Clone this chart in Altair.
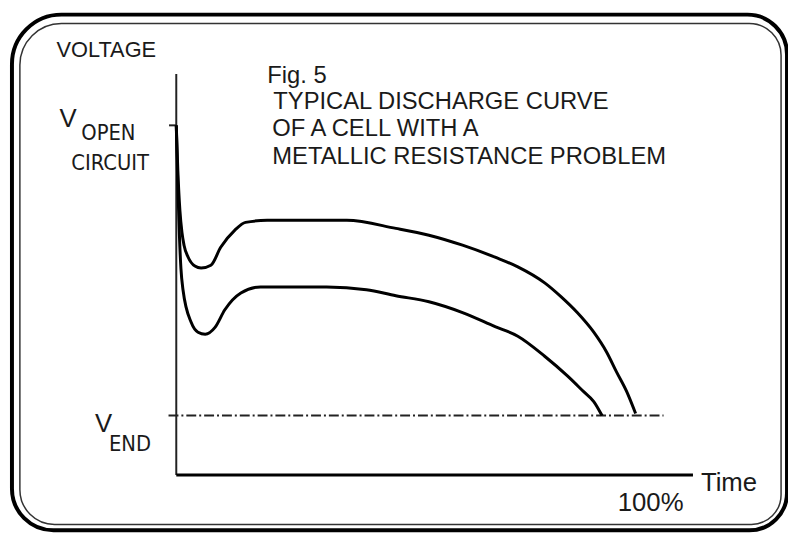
import altair as alt
import pandas as pd

# ---- data (time in % of discharge, voltage in arbitrary units 0..100) ----
time_upper = [0, 0.3, 0.7, 1.1, 1.5, 2.3, 3.6, 4.8, 6.7, 8.6, 11.3, 13.4, 17.6, 33.0, 42.5, 48.9, 55.4, 61.7, 66.1,
              71.3, 74.5, 77.6, 80.8, 83.3, 85.2, 87.2, 88.9]
volt_upper = [87.2, 76.0, 66.0, 60.5, 57.3, 54.3, 52.1, 51.6, 52.3, 56.8, 61.0, 63.0, 63.5, 63.5, 61.5, 59.8, 57.3, 54.3, 51.9,
              47.9, 44.4, 40.5, 35.6, 30.6, 25.7, 20.7, 15.3]

time_lower = [0, 0.3, 0.6, 0.9, 1.3, 2.9, 4.2, 5.6, 7.5, 9.4, 12.5, 16.3, 29.1, 36.8, 42.5, 48.9, 55.4, 61.7, 66.1,
              71.3, 75.7, 78.9, 80.8, 82.4]
volt_lower = [87.2, 72.0, 60.0, 51.5, 46.2, 38.0, 35.6, 35.1, 36.8, 41.2, 45.4, 46.9, 46.9, 46.2, 44.7, 43.2, 40.5, 37.0, 34.6,
              29.6, 24.7, 20.7, 18.3, 14.8]

V_OPEN = 87.2
V_END = 14.8
T_FULL = 100
V_TOP = 100
END_LINE = [-1.5, 94.3]
TICK = [-1.4, 0]

labels = ["VOLTAGE", "Fig. 5", "TYPICAL DISCHARGE CURVE", "OF A CELL WITH A",
          "METALLIC RESISTANCE PROBLEM", "V", "OPEN", "CIRCUIT", "V", "END", "Time", "100%"]

curves = pd.concat([
    pd.DataFrame({"t": time_upper, "v": volt_upper, "s": "upper"}),
    pd.DataFrame({"t": time_lower, "v": volt_lower, "s": "lower"}),
], ignore_index=True)

xs = alt.Scale(domain=[0, 100], range=[170, 692], nice=False, zero=False)
ys = alt.Scale(domain=[0, 100], range=[469, 64], nice=False, zero=False)

one = pd.DataFrame({"d": [0]})
base = alt.Chart(one)

FONT = "Liberation Sans, Arial, sans-serif"
NARROW = "Liberation Sans Narrow, DejaVu Sans Condensed, Liberation Sans, sans-serif"

outer = base.mark_rect(fillOpacity=0, stroke="black", strokeWidth=4,
                       cornerRadiusTopLeft=50, cornerRadiusTopRight=40,
                       cornerRadiusBottomLeft=42, cornerRadiusBottomRight=38).encode(
    x=alt.value(4), x2=alt.value(787), y=alt.value(4), y2=alt.value(525))
inner = base.mark_rect(fillOpacity=0, stroke="#333", strokeWidth=1.5,
                       cornerRadiusTopLeft=42, cornerRadiusTopRight=32,
                       cornerRadiusBottomLeft=35, cornerRadiusBottomRight=30).encode(
    x=alt.value(12), x2=alt.value(781), y=alt.value(13), y2=alt.value(519))

# vertical segment (y axis) and horizontal segments (x axis, V_open tick, V_end line)
vseg = pd.DataFrame({"t": [0], "v": [0], "v2": [V_TOP]})
hseg = pd.DataFrame({
    "name": ["xaxis", "tick", "end"],
    "t": [0, TICK[0], END_LINE[0]],
    "t2": [T_FULL, TICK[1], END_LINE[1]],
    "v": [0, V_OPEN, V_END],
})

yaxis = alt.Chart(vseg).mark_rule(color="#222", strokeWidth=2).encode(
    x=alt.X("t:Q", scale=xs, axis=None),
    y=alt.Y("v:Q", scale=ys, axis=None),
    y2="v2:Q")
xaxis = alt.Chart(hseg).transform_filter("datum.name == 'xaxis'").mark_rule(
    color="black", strokeWidth=3).encode(
    x=alt.X("t:Q", scale=xs, axis=None), x2="t2:Q",
    y=alt.Y("v:Q", scale=ys, axis=None))
tick = alt.Chart(hseg).transform_filter("datum.name == 'tick'").mark_rule(
    color="#222", strokeWidth=2).encode(
    x=alt.X("t:Q", scale=xs, axis=None), x2="t2:Q",
    y=alt.Y("v:Q", scale=ys, axis=None))
endline = alt.Chart(hseg).transform_filter("datum.name == 'end'").mark_rule(
    color="#222", strokeWidth=2, strokeDash=[10, 3, 2, 3]).encode(
    x=alt.X("t:Q", scale=xs, axis=None), x2="t2:Q",
    y=alt.Y("v:Q", scale=ys, axis=None))

lines = alt.Chart(curves).mark_line(color="black", strokeWidth=3, interpolate="monotone").encode(
    x=alt.X("t:Q", scale=xs, axis=None),
    y=alt.Y("v:Q", scale=ys, axis=None),
    detail="s:N",
)


def label(txt, x, y, size, font=FONT):
    return base.mark_text(text=txt, align="left", baseline="alphabetic",
                          fontSize=size, font=font, color="#1a1a1a").encode(
        x=alt.value(x), y=alt.value(y))


texts = [
    label(labels[0], 49, 47, 22),
    label(labels[1], 262, 73, 24),
    label(labels[2], 268, 99, 24),
    label(labels[3], 267, 127, 24),
    label(labels[4], 267, 155, 24),
    label(labels[5], 52, 118, 26),
    label(labels[6], 74, 131, 22, NARROW),
    label(labels[7], 64, 161, 22, NARROW),
    label(labels[8], 88, 426, 26),
    label(labels[9], 102, 445, 22, NARROW),
    label(labels[10], 700, 485, 26),
    label(labels[11], 616, 505, 26),
]

chart = alt.layer(outer, inner, yaxis, xaxis, tick, endline, lines, *texts).properties(
    width=788, height=528,
    padding=0,
    autosize=alt.AutoSizeParams(type="none"),
    background="white",
).configure_view(stroke=None)

chart.save("out.html", embed_options={"renderer": "svg", "actions": False})
